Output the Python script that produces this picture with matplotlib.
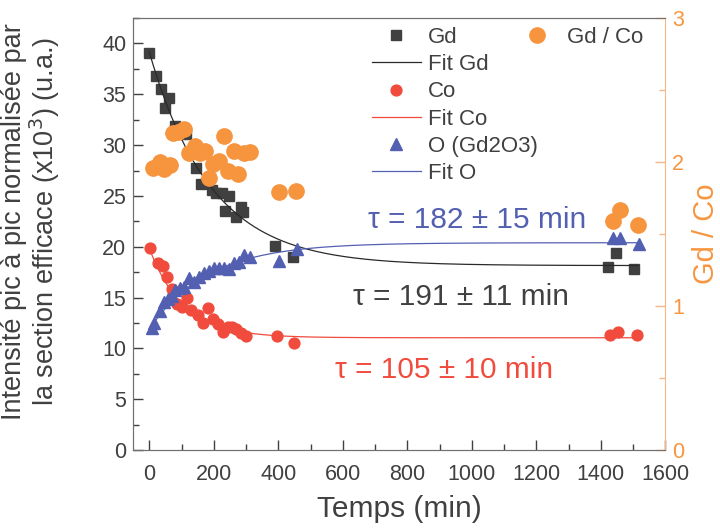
import matplotlib
matplotlib.use('Agg')
import matplotlib.pyplot as plt
import matplotlib.ticker as ticker
import numpy as np

plt.rcParams['font.family'] = ['Liberation Sans', 'DejaVu Sans']

GREY = '#404040'
RED = '#f04b3c'
BLUE = '#5360b2'
ORANGE = '#f7953f'

# Gd
t_gd = [0, 22, 37, 62, 50, 81, 115, 146, 161, 193, 208, 224, 248, 236, 283, 270, 289, 391, 444,
        1421, 1447, 1502]
y_gd = [39.1, 36.8, 35.5, 34.6, 33.7, 31.9, 31.1, 27.8, 26.2, 25.6, 25.3, 25.3, 25.0, 23.5, 23.9,
        22.9, 23.4, 20.1, 19.0, 18.0, 19.4, 17.8]
# Co
t_co = [3, 27, 41, 55, 70, 86, 101, 117, 130, 151, 181, 166, 197, 212, 229, 243, 257, 270, 285,
        301, 397, 448, 1430, 1454, 1511]
y_co = [19.9, 18.4, 18.1, 17.0, 15.8, 14.4, 14.1, 15.0, 13.8, 13.3, 14.0, 12.5, 12.9, 12.4, 11.6,
        12.1, 12.1, 11.9, 11.5, 11.2, 11.2, 10.5, 11.3, 11.6, 11.3]
# O (Gd2O3)
t_o = [8, 16, 32, 44, 57, 70, 81, 94, 107, 122, 140, 155, 171, 186, 202, 215, 231, 246, 262, 277,
       293, 311, 402, 457, 1437, 1461, 1518]
y_o = [12.0, 12.5, 13.7, 14.6, 14.9, 15.2, 15.7, 15.9, 16.0, 16.9, 16.5, 17.0, 17.4, 17.6, 17.9,
       17.9, 17.9, 17.8, 18.4, 18.5, 19.2, 19.0, 18.6, 19.8, 20.9, 20.9, 20.3]
# Gd / Co
t_r = [11, 32, 44, 63, 73, 89, 107, 122, 141, 156, 172, 186, 199, 215, 231, 244, 262, 275, 293,
       311, 402, 456, 1437, 1461, 1516]
y_r = [1.96, 2.00, 1.95, 1.98, 2.20, 2.21, 2.23, 2.06, 2.11, 2.06, 2.08, 1.89, 1.99, 2.01, 2.18,
       1.94, 2.08, 1.92, 2.06, 2.07, 1.79, 1.80, 1.59, 1.67, 1.56]

# exponential fits: y = y_inf + A * exp(-t / tau)
fit_gd = (18.15, 21.0, 191)
fit_co = (11.05, 8.8, 105)
fit_o = (20.4, -8.5, 182)

tau_labels = ['τ = 182 ± 15 min', 'τ = 191 ± 11 min', 'τ = 105 ± 10 min']


def fit_curve(t, params):
    y_inf, amp, tau = params
    return y_inf + amp * np.exp(-t / tau)


fig = plt.figure(figsize=(7.2, 5.32), dpi=100)
ax = fig.add_axes([0.185, 0.154, 0.739, 0.812])
ax2 = ax.twinx()

t_fit = np.linspace(0, 1515, 400)
t_fit_o = np.linspace(8, 1520, 400)

h1, = ax.plot(t_gd, y_gd, 's', color=GREY, ms=7.4, ls='none', label='Gd')
h2, = ax.plot(t_fit, fit_curve(t_fit, fit_gd), '-', color='#2a2a2a', lw=0.9, label='Fit Gd')
h3, = ax.plot(t_co, y_co, 'o', color=RED, ms=7.8, ls='none', label='Co')
h4, = ax.plot(t_fit, fit_curve(t_fit, fit_co), '-', color=RED, lw=0.9, label='Fit Co')
h5, = ax.plot(t_o, y_o, '^', color=BLUE, ms=8, ls='none', label='O (Gd2O3)')
h6, = ax.plot(t_fit_o, fit_curve(t_fit_o, fit_o), '-', color=BLUE, lw=0.9, label='Fit O')
h7, = ax2.plot(t_r, y_r, 'o', color=ORANGE, ms=11, ls='none', label='Gd / Co')

ax.set_xlim(-50, 1600)
ax.set_ylim(0, 42.5)
ax2.set_ylim(0, 3)

ax.xaxis.set_major_locator(ticker.MultipleLocator(200))
ax.xaxis.set_minor_locator(ticker.MultipleLocator(100))
ax.yaxis.set_major_locator(ticker.MultipleLocator(5))
ax.yaxis.set_minor_locator(ticker.MultipleLocator(2.5))
ax2.yaxis.set_major_locator(ticker.MultipleLocator(1))
ax2.yaxis.set_minor_locator(ticker.MultipleLocator(0.5))

for a in (ax, ax2):
    a.tick_params(which='both', direction='in', top=False)
    a.tick_params(which='major', length=7, width=1)
    a.tick_params(which='minor', length=4, width=1)
ax.tick_params(which='both', colors=GREY, labelsize=15.5, right=False)
ax.tick_params(axis='x', which='both', pad=10)
ax.tick_params(axis='y', which='both', pad=5)
ax2.tick_params(which='both', colors='#f9b787', labelcolor=ORANGE, labelsize=15.5, pad=5)
for s in ('left', 'bottom', 'top'):
    ax.spines[s].set_color('#707070')
    ax2.spines[s].set_color('#707070')
ax2.spines['right'].set_color('#f9b787')
ax.spines['right'].set_visible(False)

ax.set_xlabel('Temps (min)', fontsize=21.5, color=GREY)
ax.xaxis.set_label_coords(0.5, -0.105)
ax.set_ylabel('Intensité pic à pic normalisée par\nla section efficace (x10$^3$) (u.a.)',
              fontsize=19.5, color=GREY, linespacing=1.05)
ax.yaxis.set_label_coords(-0.133, 0.53)
ax2.set_ylabel('Gd / Co', fontsize=21, color=ORANGE)
ax2.yaxis.set_label_coords(1.05, 0.5)

ax.text(1016, 21.8, tau_labels[0], color=BLUE, fontsize=21.5, ha='center', va='baseline')
ax.text(966, 14.26, tau_labels[1], color=GREY, fontsize=21.5, ha='center', va='baseline')
ax.text(913, 7.08, tau_labels[2], color=RED, fontsize=21.5, ha='center', va='baseline')

leg = ax.legend(handles=[h1, h2, h3, h4, h5, h6], loc='upper left', bbox_to_anchor=(0.432, 1.0),
                frameon=False, fontsize=16, handlelength=2.2, labelspacing=0.28,
                handletextpad=0.3, borderaxespad=0, labelcolor=GREY)
leg2 = ax2.legend(handles=[h7], loc='upper left', bbox_to_anchor=(0.711, 1.0), frameon=False,
                  fontsize=16, handlelength=1.5, handletextpad=0.6, labelcolor=GREY,
                  borderaxespad=0)

fig.savefig('out.png', dpi=100)
